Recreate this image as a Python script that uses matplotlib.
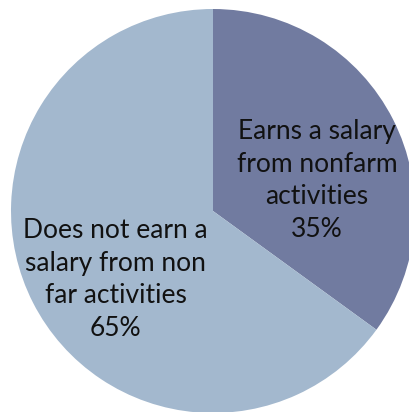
import matplotlib
matplotlib.use("Agg")
import matplotlib.pyplot as plt

categories = ["Earns a salary\nfrom nonfarm\nactivities",
              "Does not earn a\nsalary from non\nfar activities"]
shares = [35, 65]
colors = ["#717BA0", "#A3B8CE"]

fig = plt.figure(figsize=(4.10, 4.12), dpi=100)
ax = fig.add_axes([0, 0, 1, 1])

cx, cy, r = 213, 201, 202
ax.pie(shares, colors=colors, startangle=90, counterclock=False,
       center=(cx, cy), radius=r, frame=True,
       wedgeprops=dict(linewidth=0))
ax.set_xlim(0, 410)
ax.set_ylim(0, 412)
ax.set_aspect("equal")
ax.axis("off")

label_pos = [(317, 231.5), (115.5, 132.5)]
for cat, val, (x, y) in zip(categories, shares, label_pos):
    ax.text(x, y, f"{cat}\n{val}%", ha="center", va="center",
            fontsize=19, family="Lato", linespacing=1.37, color="#111111")

fig.savefig("out.png", dpi=100)
